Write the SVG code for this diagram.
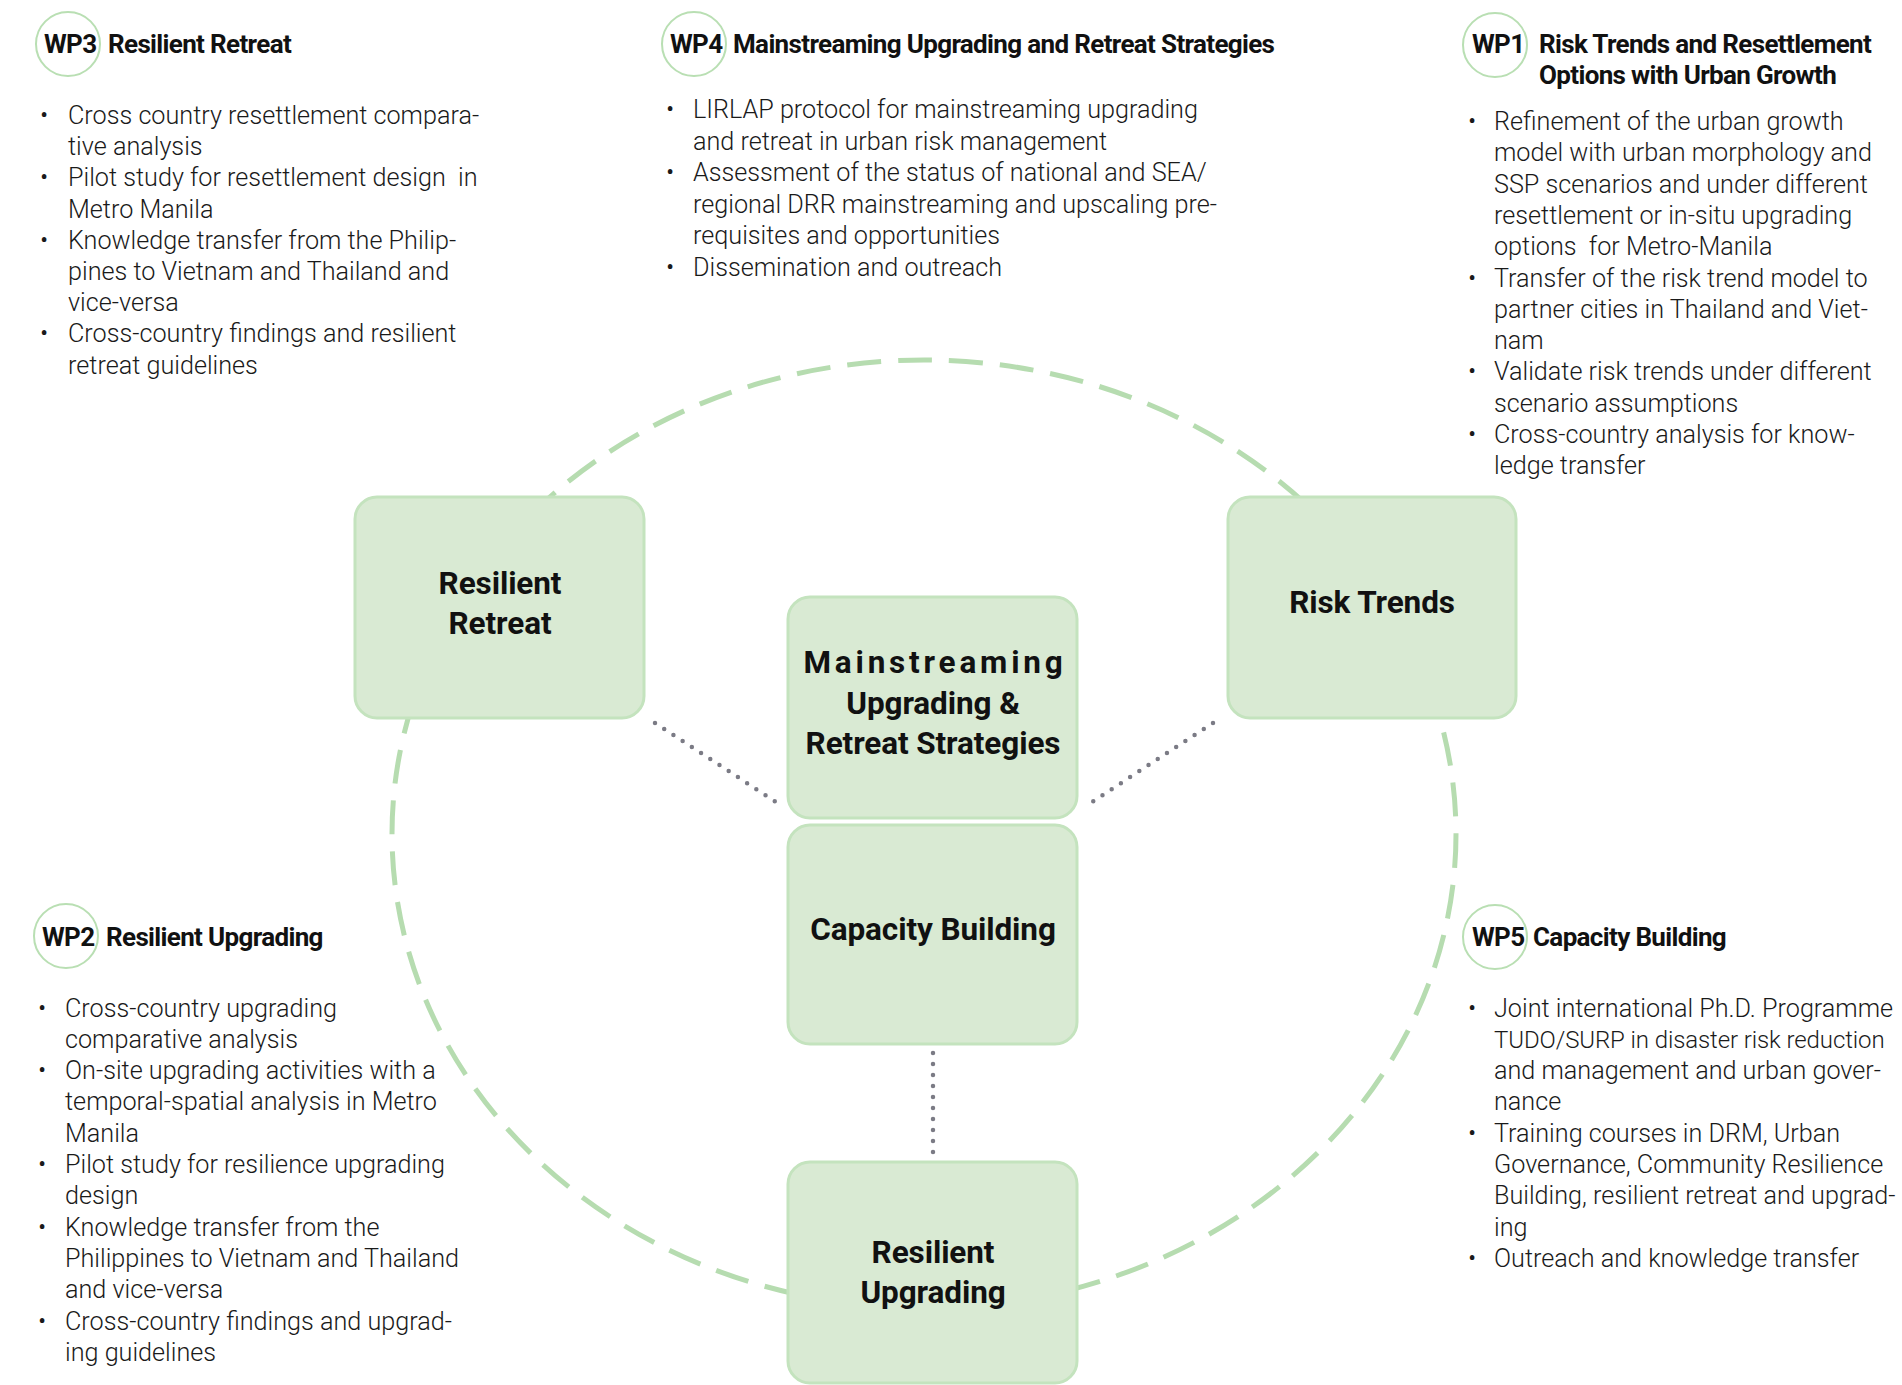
<svg xmlns="http://www.w3.org/2000/svg" width="1902" height="1385" viewBox="0 0 1902 1385">
<style>
.body{font-family:Roboto,"Liberation Sans",sans-serif;font-weight:300;font-size:25.2px;fill:#1a1a1a;white-space:pre}
.hdr{font-family:Roboto,"Liberation Sans",sans-serif;font-weight:700;font-size:26px;letter-spacing:-0.65px;fill:#111}
.lbl{font-family:Roboto,"Liberation Sans",sans-serif;font-weight:700;font-size:31.5px;letter-spacing:-0.1px;text-anchor:middle;fill:#111}
.box{fill:#d9ead3;stroke:#c4e3be;stroke-width:3}
.badge{fill:#fff;stroke:#b9dfb3;stroke-width:2}
.ring{fill:none;stroke:#b6dcb0;stroke-width:5;stroke-dasharray:34 17}
.dots{fill:none;stroke:#7b7b85;stroke-width:4.5;stroke-linecap:round;stroke-dasharray:0 11}
</style>
<rect width="1902" height="1385" fill="#fff"/>
<g id="connectors">
<ellipse class="ring" cx="924" cy="834" rx="532" ry="474"/>
<line class="dots" x1="655" y1="723" x2="776" y2="802"/>
<line class="dots" x1="1213" y1="723" x2="1092" y2="802"/>
<line class="dots" x1="933" y1="1053" x2="933" y2="1155"/>
</g>
<g id="node-retreat">
<rect class="box" x="355" y="497" width="289" height="221" rx="22"/>
<text class="lbl" x="500" y="594">Resilient</text>
<text class="lbl" x="500" y="634">Retreat</text>
</g>
<g id="node-risk">
<rect class="box" x="1228" y="497" width="288" height="221" rx="22"/>
<text class="lbl" x="1372" y="613">Risk Trends</text>
</g>
<g id="node-mainstreaming">
<rect class="box" x="788" y="597" width="289" height="221" rx="22"/>
<text class="lbl" x="935" y="673" style="letter-spacing:3.8px">Mainstreaming</text>
<text class="lbl" x="933" y="714">Upgrading &amp;</text>
<text class="lbl" x="933" y="754">Retreat Strategies</text>
</g>
<g id="node-capacity">
<rect class="box" x="788" y="825" width="289" height="219" rx="22"/>
<text class="lbl" x="933" y="940">Capacity Building</text>
</g>
<g id="node-upgrading">
<rect class="box" x="788" y="1162" width="289" height="221" rx="22"/>
<text class="lbl" x="933" y="1263">Resilient</text>
<text class="lbl" x="933" y="1303">Upgrading</text>
</g>
<g id="wp3">
<circle class="badge" cx="68" cy="44" r="32"/>
<text class="hdr" x="44" y="53">WP3</text>
<text class="hdr" x="108" y="53">Resilient Retreat</text>
<text class="body">
<tspan x="40" y="124">•</tspan><tspan x="68" y="124">Cross country resettlement compara-</tspan>
<tspan x="68" y="155.2">tive analysis</tspan>
<tspan x="40" y="186.4">•</tspan><tspan x="68" y="186.4">Pilot study for resettlement design  in</tspan>
<tspan x="68" y="217.6">Metro Manila</tspan>
<tspan x="40" y="248.8">•</tspan><tspan x="68" y="248.8">Knowledge transfer from the Philip-</tspan>
<tspan x="68" y="280">pines to Vietnam and Thailand and</tspan>
<tspan x="68" y="311.2">vice-versa</tspan>
<tspan x="40" y="342.4">•</tspan><tspan x="68" y="342.4">Cross-country findings and resilient</tspan>
<tspan x="68" y="373.6">retreat guidelines</tspan>
</text>
</g>
<g id="wp4">
<circle class="badge" cx="694" cy="44" r="32"/>
<text class="hdr" x="670" y="53">WP4</text>
<text class="hdr" x="733" y="53">Mainstreaming Upgrading and Retreat Strategies</text>
<text class="body">
<tspan x="666" y="118">•</tspan><tspan x="693" y="118">LIRLAP protocol for mainstreaming upgrading</tspan>
<tspan x="693" y="149.5">and retreat in urban risk management</tspan>
<tspan x="666" y="181">•</tspan><tspan x="693" y="181">Assessment of the status of national and SEA/</tspan>
<tspan x="693" y="212.5">regional DRR mainstreaming and upscaling pre-</tspan>
<tspan x="693" y="244">requisites and opportunities</tspan>
<tspan x="666" y="275.5">•</tspan><tspan x="693" y="275.5">Dissemination and outreach</tspan>
</text>
</g>
<g id="wp1">
<circle class="badge" cx="1495" cy="45" r="32"/>
<text class="hdr" x="1472" y="53">WP1</text>
<text class="hdr" x="1539" y="53">Risk Trends and Resettlement</text>
<text class="hdr" x="1539" y="84">Options with Urban Growth</text>
<text class="body">
<tspan x="1468" y="130">•</tspan><tspan x="1494" y="130">Refinement of the urban growth</tspan>
<tspan x="1494" y="161.3">model with urban morphology and</tspan>
<tspan x="1494" y="192.6">SSP scenarios and under different</tspan>
<tspan x="1494" y="223.9">resettlement or in-situ upgrading</tspan>
<tspan x="1494" y="255.2">options  for Metro-Manila</tspan>
<tspan x="1468" y="286.5">•</tspan><tspan x="1494" y="286.5">Transfer of the risk trend model to</tspan>
<tspan x="1494" y="317.8">partner cities in Thailand and Viet-</tspan>
<tspan x="1494" y="349.1">nam</tspan>
<tspan x="1468" y="380.4">•</tspan><tspan x="1494" y="380.4">Validate risk trends under different</tspan>
<tspan x="1494" y="411.7">scenario assumptions</tspan>
<tspan x="1468" y="443">•</tspan><tspan x="1494" y="443">Cross-country analysis for know-</tspan>
<tspan x="1494" y="474.3">ledge transfer</tspan>
</text>
</g>
<g id="wp2">
<circle class="badge" cx="66" cy="936" r="32"/>
<text class="hdr" x="42" y="946">WP2</text>
<text class="hdr" x="106" y="946">Resilient Upgrading</text>
<text class="body">
<tspan x="38" y="1016.5">•</tspan><tspan x="65" y="1016.5">Cross-country upgrading</tspan>
<tspan x="65" y="1047.8">comparative analysis</tspan>
<tspan x="38" y="1079.1">•</tspan><tspan x="65" y="1079.1">On-site upgrading activities with a</tspan>
<tspan x="65" y="1110.4">temporal-spatial analysis in Metro</tspan>
<tspan x="65" y="1141.7">Manila</tspan>
<tspan x="38" y="1173">•</tspan><tspan x="65" y="1173">Pilot study for resilience upgrading</tspan>
<tspan x="65" y="1204.3">design</tspan>
<tspan x="38" y="1235.6">•</tspan><tspan x="65" y="1235.6">Knowledge transfer from the</tspan>
<tspan x="65" y="1266.9">Philippines to Vietnam and Thailand</tspan>
<tspan x="65" y="1298.2">and vice-versa</tspan>
<tspan x="38" y="1329.5">•</tspan><tspan x="65" y="1329.5">Cross-country findings and upgrad-</tspan>
<tspan x="65" y="1360.8">ing guidelines</tspan>
</text>
</g>
<g id="wp5">
<circle class="badge" cx="1495" cy="937" r="32"/>
<text class="hdr" x="1472" y="946">WP5</text>
<text class="hdr" x="1533" y="946">Capacity Building</text>
<text class="body">
<tspan x="1468" y="1016.5">•</tspan><tspan x="1494" y="1016.5">Joint international Ph.D. Programme</tspan>
<tspan x="1494" y="1079.1">and management and urban gover-</tspan>
<tspan x="1494" y="1110.4">nance</tspan>
<tspan x="1468" y="1141.7">•</tspan><tspan x="1494" y="1141.7">Training courses in DRM, Urban</tspan>
<tspan x="1494" y="1173">Governance, Community Resilience</tspan>
<tspan x="1494" y="1204.3">Building, resilient retreat and upgrad-</tspan>
<tspan x="1494" y="1235.6">ing</tspan>
<tspan x="1468" y="1266.9">•</tspan><tspan x="1494" y="1266.9">Outreach and knowledge transfer</tspan>
</text>
<text class="body" x="1494" y="1047.8" style="font-size:24px;letter-spacing:-0.1px">TUDO/SURP in disaster risk reduction</text>
</g>
</svg>
